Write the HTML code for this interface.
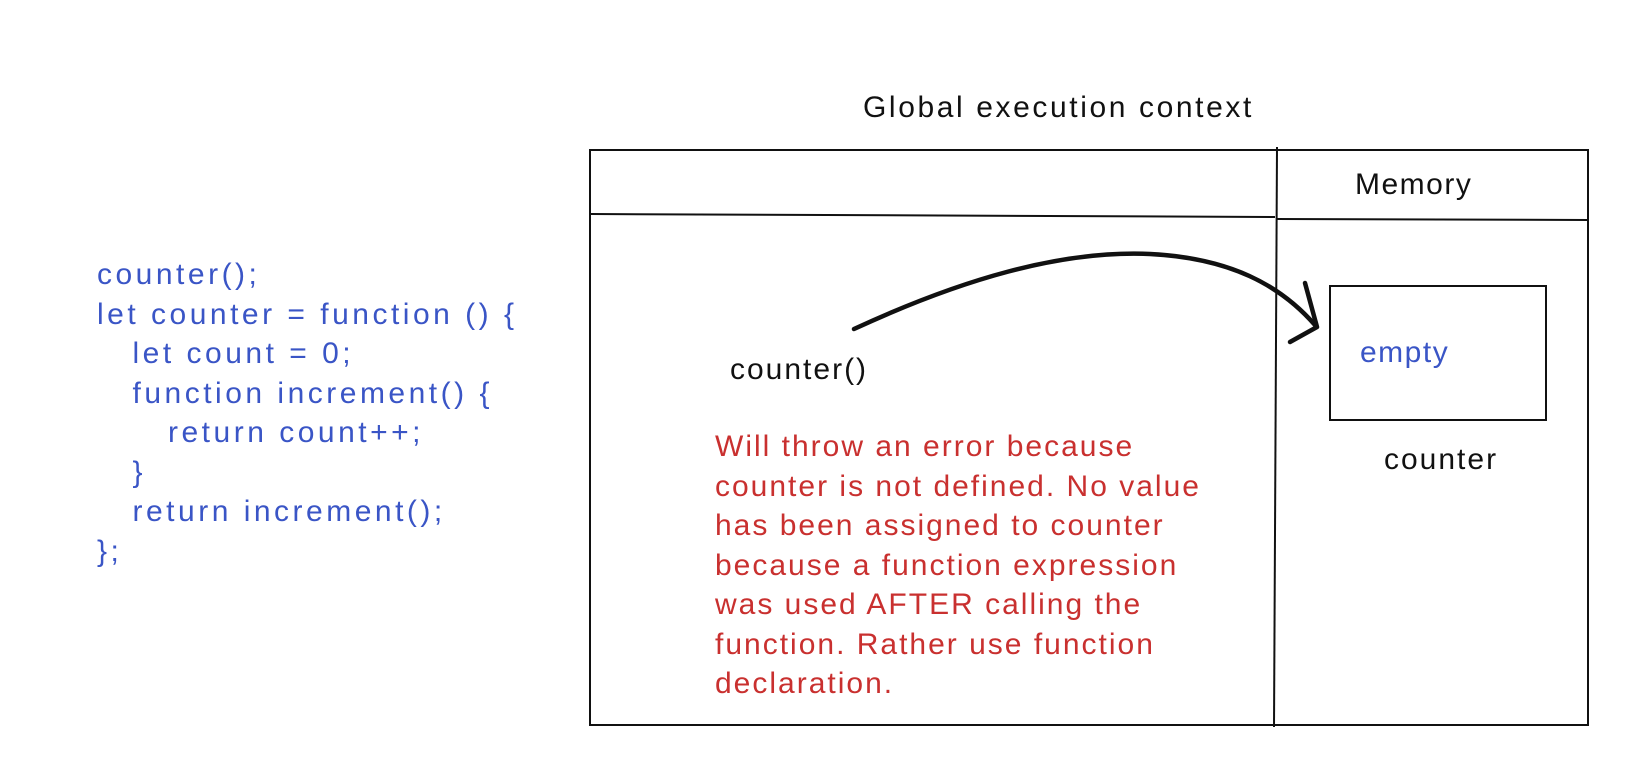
<!DOCTYPE html>
<html><head><meta charset="utf-8"><style>
body{margin:0;background:#fff;width:1650px;height:774px;overflow:hidden;position:relative;font-family:"Liberation Sans",sans-serif}
.t{position:absolute;white-space:pre;font-size:30px;line-height:39.5px}
.b{color:#3a55c6}.r{color:#c9302f}.k{color:#111}
</style></head><body>
<svg width="1650" height="774" style="position:absolute;left:0;top:0">
<g stroke="#111" stroke-width="2" fill="none">
<path d="M590 150 L1588 150 L1588 725 L590 725 Z"/>
<path d="M591 214 L1275 217"/>
<path d="M1277 219 L1588 220"/>
<path d="M1277 147 L1274 727"/>
<path d="M1330 286 L1546 286 L1546 420 L1330 420 Z"/>
<path d="M854 329 C960 280 1060 250 1150 254 C1230 258 1280 285 1315 325" stroke-width="4.5" stroke-linecap="round"/>
<path d="M1305 283 L1317 327 L1290 342" stroke-width="4.5" stroke-linecap="round" stroke-linejoin="round"/>
</g></svg>
<div class="t k" style="left:863px;top:88px;letter-spacing:2.6px">Global execution context</div>
<div class="t k" style="left:1355px;top:165px;letter-spacing:1.5px">Memory</div>
<div class="t b" style="left:1360px;top:333px;letter-spacing:1.5px">empty</div>
<div class="t k" style="left:1384px;top:440px;letter-spacing:2px">counter</div>
<div class="t k" style="left:730px;top:350px;letter-spacing:2px">counter()</div>
<div class="t b" style="left:97px;top:255px;letter-spacing:3.5px">counter();
let counter = function () {
   let count = 0;
   function increment() {
      return count++;
   }
   return increment();
};</div>
<div class="t r" style="left:715px;top:427px;letter-spacing:2px">Will throw an error because
counter is not defined. No value
has been assigned to counter
because a function expression
was used AFTER calling the
function. Rather use function
declaration.</div>
</body></html>
